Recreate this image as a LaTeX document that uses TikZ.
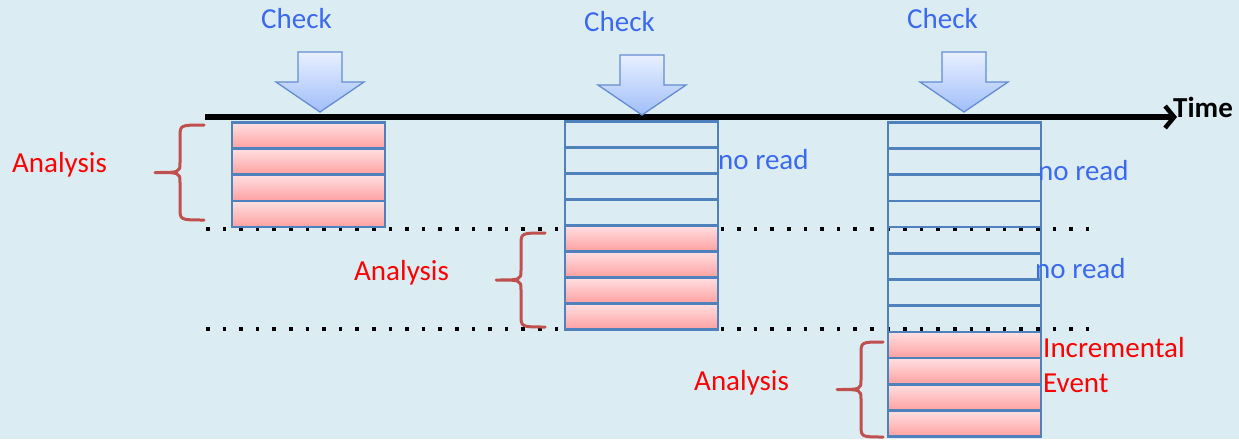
\documentclass[tikz,border=0pt]{standalone}
\usepackage{fontspec}
\setmainfont{Carlito}
\usetikzlibrary{arrows.meta}
\definecolor{bg}{RGB}{219,237,243}
\definecolor{rowblue}{RGB}{79,129,189}
\definecolor{checkblue}{RGB}{59,105,240}
\definecolor{bracered}{RGB}{192,80,77}
\definecolor{pinktop}{RGB}{255,224,226}
\definecolor{pinkbot}{RGB}{255,160,160}
\definecolor{arrtop}{RGB}{232,240,255}
\definecolor{arrbot}{RGB}{160,190,250}
\definecolor{arredge}{RGB}{100,140,210}
\tikzset{
  txt/.style={inner sep=0pt, anchor=base west, font=\fontsize{29}{34}\selectfont},
  bluetxt/.style={txt, text=checkblue},
  redtxt/.style={txt, text=red},
  cell/.style={rectangle, draw=rowblue, line width=2.6pt, minimum width=153pt, inner sep=0pt, anchor=north},
  pinkcell/.style={cell, top color=pinktop, bottom color=pinkbot},
  emptycell/.style={cell},
  bracestyle/.style={draw=bracered, line width=3pt, line cap=round},
  blockarrow/.style={draw=arredge, line width=1.3pt, top color=arrtop, bottom color=arrbot, line join=miter},
  dots/.style={line width=3.6pt, dash pattern=on 3.6pt off 13pt},
}
\newcommand{\myblockarr}[3]{% center x, top y, tip y
  \path[blockarrow] (#1-22,#2) -- (#1+22,#2) -- (#1+22,#2+30) -- (#1+44,#2+30) -- (#1,#3) -- (#1-44,#2+30) -- (#1-22,#2+30) -- cycle;}
\newcommand{\mybrace}[5]{% end x, vertical x, tip x, top y, bottom y
  \draw[bracestyle] (#1,#4) .. controls (#2,#4) .. (#2,#4+12) -- (#2,{(#4+#5)/2-10}) .. controls (#2,{(#4+#5)/2}) .. (#3,{(#4+#5)/2})
     (#3,{(#4+#5)/2}) .. controls (#2,{(#4+#5)/2}) .. (#2,{(#4+#5)/2+10}) -- (#2,#5-12) .. controls (#2,#5) .. (#1,#5);}
\begin{document}
\begin{tikzpicture}[x=1pt,y=-1pt]
\fill[bg] (0,0) rectangle (1239,439);
\useasboundingbox (0,0) rectangle (1239,439);

% dotted lines
\coordinate (d1a) at (206,229); \coordinate (d1b) at (1092,229);
\coordinate (d2a) at (206,329); \coordinate (d2b) at (1092,329);
\draw[dots] (d1a) -- (d1b);
\draw[dots] (d2a) -- (d2b);

% column 1
\foreach \i in {0,...,3} {
  \node[pinkcell, minimum height=26.2pt] (a\i) at (308.5,{121+26.2*\i}) {};
}
% column 2
\foreach \i in {0,...,3} {
  \node[emptycell, minimum height=26pt] (b\i) at (641.5,{120+26*\i}) {};
}
\foreach \i in {4,...,7} {
  \node[pinkcell, minimum height=26pt] (b\i) at (641.5,{120+26*\i}) {};
}
% column 3
\foreach \i in {0,...,7} {
  \node[emptycell, minimum height=26.2pt] (c\i) at (964.5,{121+26.2*\i}) {};
}
\foreach \i in {8,...,11} {
  \node[pinkcell, minimum height=26.2pt] (c\i) at (964.5,{121+26.2*\i}) {};
}

% timeline
\node[txt, font=\fontsize{29}{34}\selectfont\bfseries] (time) at (1173,117) {Time};
\coordinate (t0) at (205,117);
\coordinate (t1) at (1177,117);
\draw[line width=5.5pt, -{Straight Barb[length=9pt,width=22pt,line width=4.5pt]}] (t0) -- (t1);

% check arrows
\myblockarr{320}{52}{112}
\myblockarr{642}{55}{115}
\myblockarr{964}{52}{112}
\node[bluetxt] (ch1) at (261,28) {Check};
\node[bluetxt] (ch2) at (584,31) {Check};
\node[bluetxt] (ch3) at (907,28) {Check};

% braces
\mybrace{204}{180}{155}{125}{220}
\mybrace{545}{521}{496}{233}{327}
\mybrace{883}{861}{837}{342}{437}

% labels
\node[redtxt] (an1) at (12,172) {Analysis};
\node[redtxt] (an2) at (354,280) {Analysis};
\node[redtxt] (an3) at (694,390) {Analysis};
\node[bluetxt] (nr1) at (718,169) {no read};
\node[bluetxt] (nr2) at (1038,180) {no read};
\node[bluetxt] (nr3) at (1035,278) {no read};
\node[redtxt] (inc) at (1043,357) {Incremental};
\node[redtxt] (ev) at (1043,392) {Event};
\end{tikzpicture}
\end{document}
